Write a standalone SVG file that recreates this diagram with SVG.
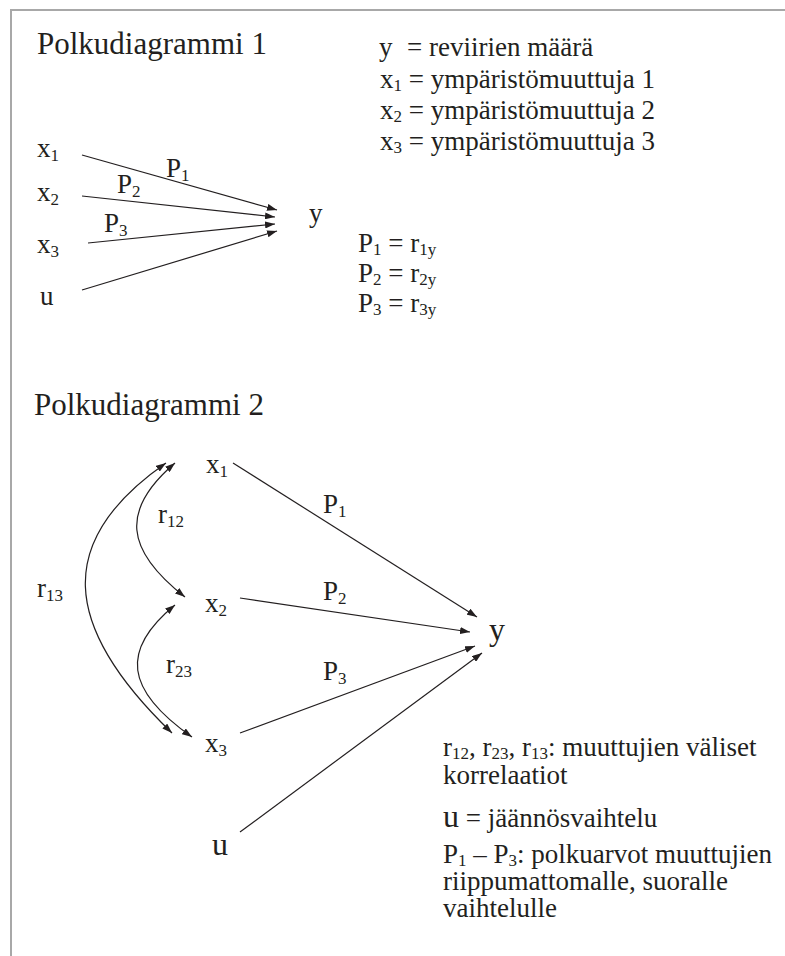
<svg xmlns="http://www.w3.org/2000/svg" width="785" height="956" viewBox="0 0 785 956">
  <style>
    text { font-family: "Liberation Serif", "Times New Roman", serif; font-size: 27px; fill: #231f20; }
    .title { font-size: 31px; }
    .big { font-size: 32px; }
    .sub { font-size: 17px; }
    .edge { stroke: #231f20; stroke-width: 1.2; fill: none; marker-end: url(#arrow); }
    .both { marker-start: url(#arrow); }
  </style>
  <defs>
    <marker id="arrow" viewBox="0 0 10 7" refX="10" refY="3.5" markerWidth="10" markerHeight="7" markerUnits="userSpaceOnUse" orient="auto-start-reverse">
      <path d="M0,0 L10,3.5 L0,7 z" fill="#231f20"/>
    </marker>
  </defs>

  <rect width="785" height="956" fill="#ffffff"/>
  <!-- page frame -->
  <polyline points="11,956 11,10 785,10" fill="none" stroke="#a8a8a8" stroke-width="2"/>

  <!-- ===== Polkudiagrammi 1 ===== -->
  <text class="title" x="37" y="54">Polkudiagrammi 1</text>

  <g id="legend1">
    <text x="379" y="56">y</text>
    <text x="407" y="56">= reviirien määrä</text>
    <text x="380" y="88">x<tspan class="sub" dy="3">1</tspan><tspan dy="-3"> = ympäristömuuttuja 1</tspan></text>
    <text x="380" y="119">x<tspan class="sub" dy="3">2</tspan><tspan dy="-3"> = ympäristömuuttuja 2</tspan></text>
    <text x="380" y="150">x<tspan class="sub" dy="3">3</tspan><tspan dy="-3"> = ympäristömuuttuja 3</tspan></text>
  </g>

  <g id="d1-x1"><text x="37" y="157">x<tspan class="sub" dy="4">1</tspan></text></g>
  <g id="d1-x2"><text x="37" y="201">x<tspan class="sub" dy="4">2</tspan></text></g>
  <g id="d1-x3"><text x="37" y="253">x<tspan class="sub" dy="4">3</tspan></text></g>
  <g id="d1-u"><text x="40" y="305">u</text></g>
  <g id="d1-y"><text x="309" y="222">y</text></g>

  <g id="d1-edges">
    <line class="edge" x1="82" y1="155" x2="277" y2="210"/>
    <line class="edge" x1="82" y1="196" x2="275" y2="217"/>
    <line class="edge" x1="88" y1="243" x2="275" y2="224"/>
    <line class="edge" x1="82" y1="290" x2="277" y2="231"/>
    <text x="166" y="177">P<tspan class="sub" dy="4">1</tspan></text>
    <text x="117" y="193">P<tspan class="sub" dy="4">2</tspan></text>
    <text x="104" y="232">P<tspan class="sub" dy="4">3</tspan></text>
  </g>

  <g id="legend-p">
    <text x="358" y="252">P<tspan class="sub" dy="3">1</tspan><tspan dy="-3"> = r</tspan><tspan class="sub" dy="3">1y</tspan></text>
    <text x="358" y="282">P<tspan class="sub" dy="3">2</tspan><tspan dy="-3"> = r</tspan><tspan class="sub" dy="3">2y</tspan></text>
    <text x="358" y="312">P<tspan class="sub" dy="3">3</tspan><tspan dy="-3"> = r</tspan><tspan class="sub" dy="3">3y</tspan></text>
  </g>

  <!-- ===== Polkudiagrammi 2 ===== -->
  <text class="title" x="34" y="415">Polkudiagrammi 2</text>

  <g id="d2-x1"><text x="206" y="473">x<tspan class="sub" dy="4">1</tspan></text></g>
  <g id="d2-x2"><text x="205" y="612">x<tspan class="sub" dy="4">2</tspan></text></g>
  <g id="d2-x3"><text x="205" y="752">x<tspan class="sub" dy="4">3</tspan></text></g>
  <g id="d2-u"><text class="big" x="212" y="855">u</text></g>
  <g id="d2-y"><text class="big" x="489" y="640">y</text></g>

  <g id="d2-edges">
    <line class="edge" x1="233" y1="463" x2="477" y2="617"/>
    <line class="edge" x1="240" y1="598" x2="470" y2="632"/>
    <line class="edge" x1="240" y1="733" x2="475" y2="646"/>
    <line class="edge" x1="240" y1="832" x2="482" y2="653"/>
    <text x="323" y="513">P<tspan class="sub" dy="4">1</tspan></text>
    <text x="323" y="600">P<tspan class="sub" dy="4">2</tspan></text>
    <text x="323" y="680">P<tspan class="sub" dy="4">3</tspan></text>

    <!-- correlations between the explanatory variables -->
    <path class="edge both" d="M166,463 C55,540 60,625 172,733"/>
    <path class="edge both" d="M175,463 C120,510 125,550 185,597"/>
    <path class="edge both" d="M175,605 C120,650 125,690 192,737"/>
    <text x="37" y="597">r<tspan class="sub" dy="4">13</tspan></text>
    <text x="158" y="523">r<tspan class="sub" dy="4">12</tspan></text>
    <text x="166" y="673">r<tspan class="sub" dy="4">23</tspan></text>
  </g>

  <g id="legend2">
    <text x="443" y="756">r<tspan class="sub" dy="3">12</tspan><tspan dy="-3">, r</tspan><tspan class="sub" dy="3">23</tspan><tspan dy="-3">, r</tspan><tspan class="sub" dy="3">13</tspan><tspan dy="-3">: muuttujien väliset</tspan></text>
    <text x="443" y="784">korrelaatiot</text>
    <text x="443" y="827"><tspan class="big">u</tspan> = jäännösvaihtelu</text>
    <text x="443" y="863">P<tspan class="sub" dy="3">1</tspan><tspan dy="-3"> – P</tspan><tspan class="sub" dy="3">3</tspan><tspan dy="-3">: polkuarvot muuttujien</tspan></text>
    <text x="443" y="890">riippumattomalle, suoralle</text>
    <text x="443" y="917">vaihtelulle</text>
  </g>
</svg>
